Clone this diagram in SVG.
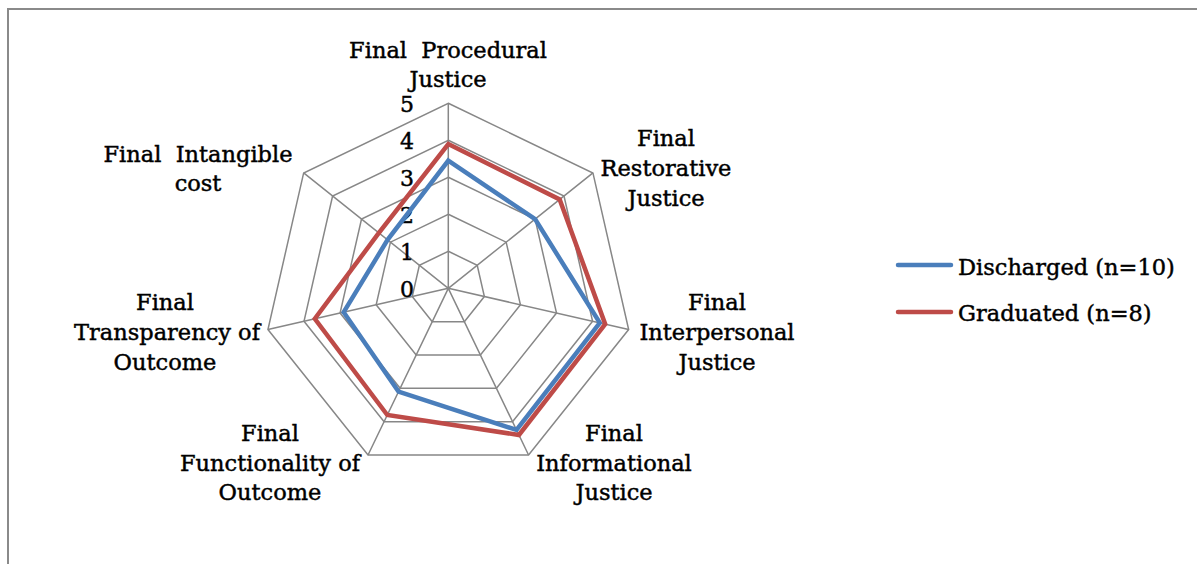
<svg xmlns="http://www.w3.org/2000/svg" width="1197" height="564" viewBox="0 0 1197 564">
<style>
text{font-family:"DejaVu Serif","Liberation Serif",serif;fill:#000;stroke:#000;stroke-width:0.45;white-space:pre}
.t{font-size:22.5px;text-anchor:middle}
.tick{font-size:22px;text-anchor:end}
.lg{font-size:22.5px}
.grid{fill:none;stroke:#878787;stroke-width:1.5}
.blue{fill:none;stroke:#4a7ebb;stroke-width:4.5;stroke-linejoin:miter}
.red{fill:none;stroke:#be4b48;stroke-width:4.5;stroke-linejoin:miter}
</style>
<rect width="1197" height="564" fill="#fff"/>
<path d="M8,564 V9 H1197" fill="none" stroke="#8a8a8a" stroke-width="2"/>
<g id="grid" transform="translate(448.3,288.3)">
<polygon class="grid" points="0,-37 28.93,-23.07 36.07,8.23 16.05,33.34 -16.05,33.34 -36.07,8.23 -28.93,-23.07"/>
<polygon class="grid" points="0,-74 57.86,-46.14 72.14,16.47 32.11,66.67 -32.11,66.67 -72.14,16.47 -57.86,-46.14"/>
<polygon class="grid" points="0,-111 86.78,-69.21 108.22,24.70 48.16,100.01 -48.16,100.01 -108.22,24.70 -86.78,-69.21"/>
<polygon class="grid" points="0,-148 115.71,-92.28 144.29,32.93 64.21,133.34 -64.21,133.34 -144.29,32.93 -115.71,-92.28"/>
<polygon class="grid" points="0,-185 144.64,-115.35 180.36,41.17 80.27,166.68 -80.27,166.68 -180.36,41.17 -144.64,-115.35"/>
<path class="grid" d="M0,0 L0,-185 M0,0 L144.64,-115.35 M0,0 L180.36,41.17 M0,0 L80.27,166.68 M0,0 L-80.27,166.68 M0,0 L-180.36,41.17 M0,0 L-144.64,-115.35"/>
</g>
<g id="ticks">
<text class="tick" x="414" y="111.5">5</text>
<text class="tick" x="414" y="148.5">4</text>
<text class="tick" x="414" y="185.5">3</text>
<text class="tick" x="414" y="222.5">2</text>
<text class="tick" x="414" y="259.5">1</text>
<text class="tick" x="414" y="296.5">0</text>
</g>
<g id="series" transform="translate(448.3,288.3)">
<polygon id="discharged" class="blue" points="0,-127.65 86.78,-69.21 151.5,34.58 68.23,141.68 -49.77,103.34 -104.61,23.88 -60.75,-48.45"/>
<polygon id="graduated" class="red" points="0,-144.3 111.37,-88.82 156.91,35.81 70.64,146.68 -61.0,126.68 -133.47,30.46 -69.43,-55.37"/>
</g>
<g id="label-procedural">
<text class="t" x="448" y="58" xml:space="preserve">Final  Procedural</text>
<text class="t" x="448" y="87">Justice</text>
</g>
<g id="label-restorative">
<text class="t" x="666" y="146">Final</text>
<text class="t" x="666" y="176">Restorative</text>
<text class="t" x="666" y="206">Justice</text>
</g>
<g id="label-interpersonal">
<text class="t" x="717" y="310">Final</text>
<text class="t" x="717" y="340">Interpersonal</text>
<text class="t" x="717" y="370">Justice</text>
</g>
<g id="label-informational">
<text class="t" x="614" y="441">Final</text>
<text class="t" x="614" y="471">Informational</text>
<text class="t" x="614" y="500">Justice</text>
</g>
<g id="label-functionality">
<text class="t" x="270" y="441">Final</text>
<text class="t" x="270" y="471">Functionality of</text>
<text class="t" x="270" y="500">Outcome</text>
</g>
<g id="label-transparency">
<text class="t" x="165" y="310">Final</text>
<text class="t" x="167" y="340">Transparency of</text>
<text class="t" x="165" y="370">Outcome</text>
</g>
<g id="label-intangible">
<text class="t" x="198" y="162" xml:space="preserve">Final  Intangible</text>
<text class="t" x="198" y="191">cost</text>
</g>
<g id="legend">
<line x1="898" y1="265" x2="951" y2="265" stroke="#4a7ebb" stroke-width="4.5" stroke-linecap="round"/>
<text class="lg" x="958" y="275">Discharged (n=10)</text>
<line x1="898" y1="312" x2="951" y2="312" stroke="#be4b48" stroke-width="4.5" stroke-linecap="round"/>
<text class="lg" x="958" y="321">Graduated (n=8)</text>
</g>
</svg>
